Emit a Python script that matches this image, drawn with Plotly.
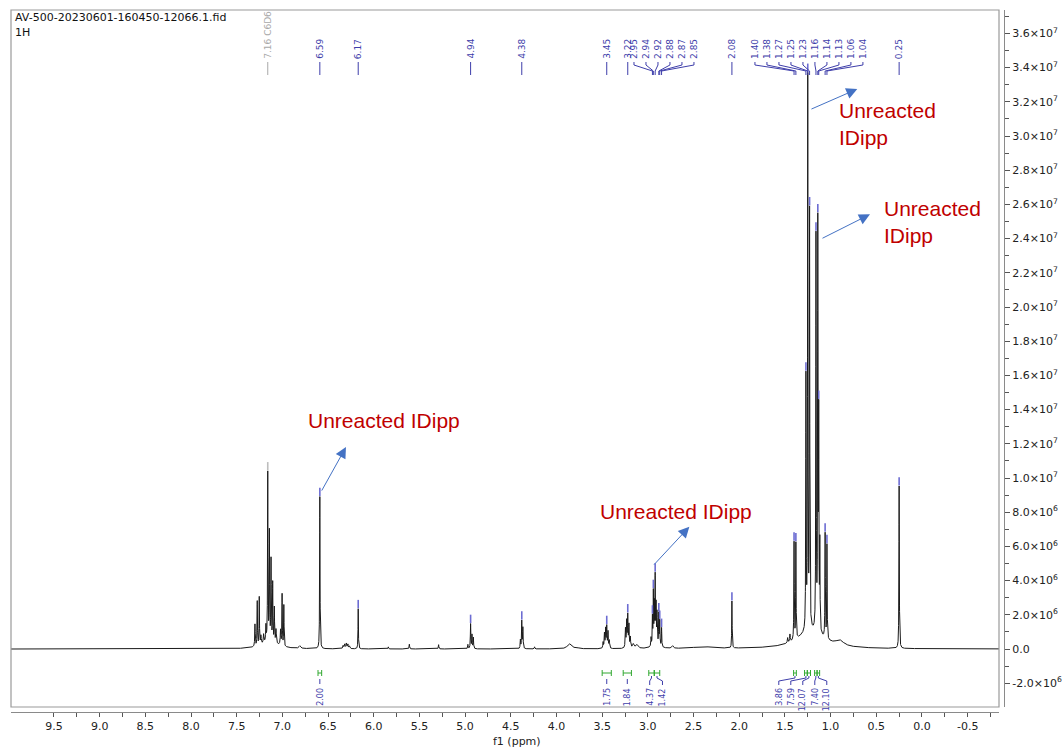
import numpy as np
import plotly.graph_objects as go

# ---------------- spectrum: line list (shift / ppm, intensity, line width / ppm)
shift_ppm = [
    7.300, 7.275, 7.253, 7.235, 7.205, 7.180, 7.160, 7.142, 7.124, 7.106, 7.088, 7.070,
    7.020, 7.003, 6.984, 7.140, 6.810,
    6.590, 6.335, 6.318, 6.300, 6.283, 6.265, 6.170, 5.840, 5.610, 5.290,
    4.970, 4.940, 4.925, 4.910, 4.395, 4.380, 4.368, 4.240, 3.860, 3.780,
    3.490, 3.475, 3.462, 3.450, 3.436, 3.422,
    3.245, 3.232, 3.220, 3.207, 3.192, 3.160, 3.120,
    2.965, 2.950, 2.940, 2.930, 2.920, 2.910, 2.900, 2.880, 2.870, 2.850, 2.910,
    2.730, 2.400, 2.080,
    1.470, 1.445, 1.400, 1.380, 1.270, 1.250, 1.230, 1.160, 1.140, 1.130, 1.118,
    1.060, 1.040, 1.220, 0.900, 0.250,
]
intensity = [
    1.3e6, 2.6e6, 2.8e6, 0.5e6, 0.5e6, 0.9e6, 9.8e6, 6.3e6, 4.7e6, 3.4e6, 2.0e6, 0.8e6,
    0.9e6, 3.0e6, 2.4e6, 0.45e6, 0.15e6,
    8.9e6, 0.18e6, 0.25e6, 0.30e6, 0.25e6, 0.15e6, 2.35e6, 0.12e6, 0.28e6, 0.25e6,
    0.25e6, 1.45e6, 0.8e6, 0.65e6, 0.5e6, 1.6e6, 1.2e6, 0.12e6, 0.3e6, 0.08e6,
    0.35e6, 0.85e6, 1.1e6, 1.25e6, 0.95e6, 0.45e6,
    1.1e6, 1.5e6, 1.85e6, 1.3e6, 0.6e6, 0.25e6, 0.22e6,
    0.5e6, 1.6e6, 3.0e6, 2.2e6, 3.8e6, 2.1e6, 1.7e6, 1.8e6, 1.4e6, 1.1e6, 0.35e6,
    0.15e6, 0.12e6, 2.75e6,
    0.3e6, 0.45e6, 5.7e6, 5.6e6, 1.47e7, 3.21e7, 2.43e7, 2.30e7, 2.35e7, 1.20e7, 5.0e6,
    6.1e6, 5.5e6, 1.0e6, 0.3e6, 9.5e6,
]
fwhm_ppm = [
    0.006, 0.005, 0.005, 0.008, 0.008, 0.006, 0.005, 0.005, 0.005, 0.005, 0.005, 0.008,
    0.008, 0.005, 0.005, 0.20, 0.02,
    0.005, 0.010, 0.010, 0.010, 0.010, 0.010, 0.005, 0.006, 0.006, 0.006,
    0.006, 0.006, 0.006, 0.006, 0.006, 0.006, 0.006, 0.006, 0.05, 0.05,
    0.007, 0.007, 0.007, 0.007, 0.007, 0.007,
    0.007, 0.007, 0.007, 0.007, 0.007, 0.02, 0.03,
    0.006, 0.005, 0.005, 0.005, 0.005, 0.005, 0.005, 0.005, 0.005, 0.005, 0.07,
    0.02, 0.25, 0.005,
    0.008, 0.008, 0.005, 0.005, 0.005, 0.005, 0.005, 0.005, 0.005, 0.005, 0.005,
    0.005, 0.005, 0.35, 0.10, 0.005,
]

# ---------------- picked peaks (top annotations)
picked_ppm = [7.16, 6.59, 6.17, 4.94, 4.38, 3.45, 3.22,
              2.95, 2.94, 2.92, 2.88, 2.87, 2.85, 2.08,
              1.40, 1.38, 1.27, 1.25, 1.23, 1.16, 1.14, 1.13, 1.06, 1.04, 0.25]
picked_text = ["7.16 C6D6", "6.59", "6.17", "4.94", "4.38", "3.45", "3.22",
               "2.95", "2.94", "2.92", "2.88", "2.87", "2.85", "2.08",
               "1.40", "1.38", "1.27", "1.25", "1.23", "1.16", "1.14", "1.13", "1.06", "1.04", "0.25"]

# ---------------- integrals
integral_from = [6.61, 3.50, 3.27, 2.99, 2.93, 1.405, 1.285, 1.255, 1.175, 1.148]
integral_to = [6.57, 3.40, 3.18, 2.93, 2.87, 1.375, 1.255, 1.220, 1.148, 1.120]
integral_text = ["2.00", "1.75", "1.84", "4.37", "1.42", "3.86", "7.59", "12.07", "7.40", "12.10"]

# ---------------- axes
x_ticks = [9.5, 9.0, 8.5, 8.0, 7.5, 7.0, 6.5, 6.0, 5.5, 5.0, 4.5, 4.0, 3.5, 3.0,
           2.5, 2.0, 1.5, 1.0, 0.5, 0.0, -0.5]
y_ticks = [-2.0e6, 0.0, 2.0e6, 4.0e6, 6.0e6, 8.0e6, 1.0e7, 1.2e7, 1.4e7, 1.6e7, 1.8e7,
           2.0e7, 2.2e7, 2.4e7, 2.6e7, 2.8e7, 3.0e7, 3.2e7, 3.4e7, 3.6e7]

X_RANGE = [9.970, -0.843]
Y_RANGE = [-3.39e6, 3.737e7]

W, H = 1063, 749
ML, MR, MT, MB = 11, 59, 10, 37
PW, PH = W - ML - MR, H - MT - MB          # paper size in px
FRAME_RIGHT = 988 / PW                     # plot frame inside the right axis
FRAME_BOTTOM = 5 / PH                      # plot frame above the bottom axis


def row(py):
    """pixel row -> paper y"""
    return (H - MB - py) / PH


def spectrum(x):
    x = np.asarray(x, dtype=float)[:, None]
    c = np.asarray(shift_ppm)[None, :]
    h = np.asarray(intensity)[None, :]
    hw = np.asarray(fwhm_ppm)[None, :] / 2.0
    return (h * hw ** 2 / ((x - c) ** 2 + hw ** 2)).sum(axis=1)


grid = np.concatenate([np.arange(X_RANGE[1], X_RANGE[0], 0.0004), np.asarray(shift_ppm)])
grid = np.unique(grid)[::-1]
curve = spectrum(grid)

fig = go.Figure()
fig.add_trace(go.Scatter(x=grid, y=np.round(curve), mode="lines",
                         line=dict(color="#1a1a1a", width=1), hoverinfo="skip",
                         showlegend=False))

# peak-pick ticks just above each picked line
tops = spectrum(picked_ppm)
pick_col = ["#bdbdbd" if t.endswith("C6D6") else "#6c6cd2" for t in picked_text]
fig.add_trace(go.Scatter(x=picked_ppm, y=tops + 0.27e6, mode="markers",
                         marker=dict(symbol="line-ns", size=6,
                                     line=dict(width=1.6, color=pick_col)),
                         hoverinfo="skip", showlegend=False))

BLUE = "#3e3eaa"
shapes = []
annotations = []


def seg(points, color, width=1):
    d = "M " + " L ".join(f"{x},{y}" for x, y in points)
    shapes.append(dict(type="path", path=d, xref="x", yref="paper",
                       line=dict(color=color, width=width)))


# label slots: singles sit on their line, crowded multiplets fan out
STEP = -0.1313
slot = {}
for i, p in enumerate([2.95, 2.94, 2.92, 2.88, 2.87, 2.85]):
    slot[p] = 3.152 + i * STEP
for i, p in enumerate([1.40, 1.38, 1.27, 1.25, 1.23, 1.16, 1.14, 1.13, 1.06, 1.04]):
    slot[p] = 1.828 + i * STEP

for p, t in zip(picked_ppm, picked_text):
    col = "#a8a8a8" if t.endswith("C6D6") else BLUE
    sx = slot.get(p, p)
    annotations.append(dict(x=sx, y=row(61), xref="x", yref="paper", text=t,
                            textangle=-90, showarrow=False, xanchor="center",
                            yanchor="bottom", font=dict(family="DejaVu Sans", size=9, color=col)))
    if p in slot:
        seg([(sx, row(62)), (sx, row(65)), (p, row(71)), (p, row(75))], col)
    else:
        seg([(p, row(62)), (p, row(75))], col)

# integrals
GREEN = "#31a831"
int_slot = {3: 2.98, 4: 2.84}
for k in range(5):
    int_slot[5 + k] = 1.567 + k * STEP
for i, (a, b, t) in enumerate(zip(integral_from, integral_to, integral_text)):
    seg([(a, row(673)), (b, row(673))], GREEN)
    seg([(a, row(670)), (a, row(676))], GREEN)
    seg([(b, row(670)), (b, row(676))], GREEN)
    c = (a + b) / 2
    sx = int_slot.get(i, c)
    if i in int_slot:
        seg([(sx, row(685)), (sx, row(681)), (c, row(678)), (c, row(676))], BLUE)
    else:
        seg([(c, row(679)), (c, row(684))], BLUE)
    annotations.append(dict(x=sx, y=row(686), xref="x", yref="paper", text=t,
                            textangle=-90, showarrow=False, xanchor="center",
                            yanchor="top", font=dict(family="DejaVu Sans", size=8, color=BLUE)))

# plot frame
shapes.append(dict(type="rect", xref="paper", yref="paper", x0=0, x1=FRAME_RIGHT,
                   y0=FRAME_BOTTOM, y1=1, line=dict(color="#9a9a9a", width=1.2)))

# file header
annotations += [
    dict(x=0, y=row(17), xref="paper", yref="paper", xshift=2, text="AV-500-20230601-160450-12066.1.fid",
         showarrow=False, xanchor="left", yanchor="middle",
         font=dict(family="DejaVu Sans", size=11, color="#111")),
    dict(x=0, y=row(33), xref="paper", yref="paper", xshift=2, text="1H",
         showarrow=False, xanchor="left", yanchor="middle",
         font=dict(family="DejaVu Sans", size=11, color="#111")),
    dict(x=(517 - ML) / PW, y=row(741), xref="paper", yref="paper", text="f1 (ppm)",
         showarrow=False, xanchor="center", yanchor="middle",
         font=dict(family="DejaVu Sans", size=11, color="#222")),
]

# call-outs
RED = "#c00000"
ARROW = "#4472c4"
callouts = [
    # text, text x, text y, arrow tail (x, y), arrow head (x, y)
    ("Unreacted IDipp", 6.742, 13.39e6, (6.578, 9.18e6), (6.304, 11.81e6)),
    ("Unreacted IDipp", 3.546, 8.07e6, (2.947, 4.85e6), (2.546, 7.15e6)),
    ("Unreacted<br>IDipp", 0.930, 30.70e6, (1.226, 31.54e6), (0.708, 32.75e6)),
    ("Unreacted<br>IDipp", 0.438, 25.00e6, (1.105, 23.98e6), (0.569, 25.42e6)),
]
for txt, tx, ty, tail, head in callouts:
    annotations.append(dict(x=tx, y=ty, xref="x", yref="y", text=txt, showarrow=False,
                            xanchor="left", yanchor="middle", align="left",
                            font=dict(family="Liberation Sans, Arial", size=21, color=RED)))
    annotations.append(dict(x=head[0], y=head[1], ax=tail[0], ay=tail[1], xref="x", yref="y",
                            axref="x", ayref="y", text="", showarrow=True, arrowhead=2,
                            arrowsize=2.2, arrowwidth=1, arrowcolor=ARROW, standoff=0))


def sci(v):
    if v == 0:
        return "0.0"
    e = int(np.floor(np.log10(abs(v))))
    return f"{v / 10 ** e:.1f}×10<sup>{e}</sup>"


fig.update_layout(
    width=W, height=H, margin=dict(l=ML, r=MR, t=MT, b=MB, autoexpand=False),
    paper_bgcolor="white", plot_bgcolor="white", showlegend=False,
    shapes=shapes, annotations=annotations,
    xaxis=dict(range=X_RANGE, domain=[0, FRAME_RIGHT], anchor="free", position=0,
               automargin=False,
               showgrid=False, zeroline=False, showline=True, linecolor="#8a8a8a", linewidth=1.2,
               ticks="outside", ticklen=4, tickcolor="#555", tickwidth=1,
               tickmode="array", tickvals=x_ticks, ticktext=[f"{v:.1f}" for v in x_ticks],
               minor=dict(tickmode="array", tickvals=[v - 0.25 for v in x_ticks] + [-0.75],
                          ticks="outside", ticklen=4, tickcolor="#555"),
               tickfont=dict(family="DejaVu Sans", size=11, color="#222")),
    yaxis=dict(range=Y_RANGE, domain=[FRAME_BOTTOM, 1], anchor="free", position=1, side="right",
               automargin=False,
               showgrid=False, zeroline=False, showline=True, linecolor="#8a8a8a", linewidth=1.2,
               ticks="outside", ticklen=5, tickcolor="#555", tickwidth=1,
               tickmode="array", tickvals=y_ticks, ticktext=[sci(v) for v in y_ticks],
               minor=dict(tickmode="array", tickvals=[v + 1.0e6 for v in y_ticks],
                          ticks="outside", ticklen=4, tickcolor="#555"),
               tickfont=dict(family="DejaVu Sans", size=11, color="#222")),
)

fig.write_html("out.html")
